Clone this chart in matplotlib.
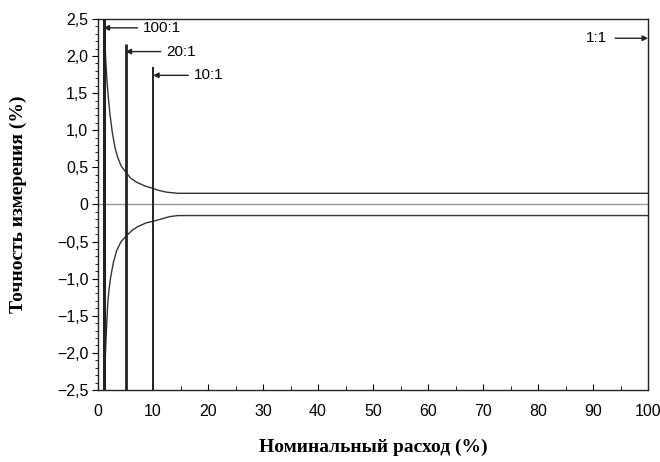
import matplotlib.pyplot as plt
from matplotlib.ticker import MultipleLocator, FuncFormatter

# ----------------------------
# DATA
# ----------------------------
flow_up = [1.0, 1.15, 1.3, 1.45, 1.65, 1.9, 2.2, 2.6, 3.1, 3.6, 4.2, 5.2, 6.0, 7.0, 8.5, 9.8, 11.0, 12.5, 14.5, 100.0]
upper = [2.5, 2.3, 2.1, 1.88, 1.65, 1.42, 1.2, 0.97, 0.76, 0.63, 0.52, 0.42, 0.35, 0.3, 0.25, 0.22, 0.19, 0.165, 0.15, 0.15]

flow_lo = [1.25, 1.35, 1.5, 1.65, 1.8, 2.0, 2.3, 2.8, 3.4, 4.2, 5.2, 6.2, 7.2, 8.7, 10.4, 11.8, 13.0, 14.5, 100.0]
lower = [-2.2, -2.0, -1.75, -1.5, -1.3, -1.15, -0.98, -0.78, -0.62, -0.5, -0.42, -0.35, -0.3, -0.25, -0.22, -0.19, -0.165, -0.15, -0.15]

# turndown lines
ratios = ["100:1", "20:1", "10:1"]
ratio_x = [1, 5, 10]
ratio_top = [2.5, 2.16, 1.85]
arrow_y = [2.38, 2.06, 1.74]
arrow_tail = [7.2, 11.4, 16.4]

x_ticks = list(range(0, 101, 10))
y_ticks = [-2.5, -2.0, -1.5, -1.0, -0.5, 0, 0.5, 1.0, 1.5, 2.0, 2.5]

# ----------------------------
# PLOT
# ----------------------------
plt.rcParams['font.family'] = ['Liberation Sans', 'DejaVu Sans']
fig = plt.figure(figsize=(6.6, 4.62), dpi=100)
ax = fig.add_axes([0.1485, 0.156, 0.8335, 0.803])

ax.axhline(0, color="#999999", lw=1)
ax.plot(flow_up, upper, color="#333333", lw=1)
ax.plot(flow_lo, lower, color="#333333", lw=1)

widths = [2.2, 2.0, 1.4]
for r, x, top, ay, tail, w in zip(ratios, ratio_x, ratio_top, arrow_y, arrow_tail, widths):
    ax.plot([x, x], [-2.5, top], color="#222222", lw=w, solid_capstyle="butt")
    ax.annotate("", xy=(x, ay), xytext=(tail, ay),
                arrowprops=dict(arrowstyle="-|>", color="#222222", lw=1,
                                mutation_scale=8, shrinkA=0, shrinkB=0))
    ax.text(tail + 1.0, ay, r, fontsize=11, va="center", ha="left")

# 1:1 at full scale
ax.annotate("", xy=(100, 2.24), xytext=(94, 2.24),
            arrowprops=dict(arrowstyle="-|>", color="#222222", lw=1,
                            mutation_scale=8, shrinkA=0, shrinkB=0))
ax.text(92.6, 2.24, "1:1", fontsize=11, va="center", ha="right")

ax.set_xlim(0, 100)
ax.set_ylim(-2.5, 2.5)
ax.set_xticks(x_ticks)
ax.set_yticks(y_ticks)
ax.xaxis.set_minor_locator(MultipleLocator(5))
ax.yaxis.set_minor_locator(MultipleLocator(0.1))

def comma(v, pos):
    if abs(v) < 1e-9:
        return "0"
    s = f"{abs(v):.1f}".replace(".", ",")
    return ("\u2212" + s) if v < 0 else s

ax.yaxis.set_major_formatter(FuncFormatter(comma))
ax.tick_params(axis="x", direction="in", length=4, labelsize=11.5, pad=10)
ax.tick_params(axis="x", which="minor", direction="in", length=3)
ax.tick_params(axis="y", direction="out", length=4, labelsize=11.5, pad=3)
ax.tick_params(axis="y", which="minor", direction="out", length=2)

for s in ax.spines.values():
    s.set_linewidth(1)
    s.set_color("#222222")

ax.set_xlabel("Номинальный расход (%)", family=["Liberation Serif", "DejaVu Serif"],
              fontweight="bold", fontsize=14, va="center")
ax.set_ylabel("Точность измерения (%)", family=["Liberation Serif", "DejaVu Serif"],
              fontweight="bold", fontsize=14, va="center")
ax.xaxis.set_label_coords(0.5, -0.154)
ax.yaxis.set_label_coords(-0.145, 0.5)

plt.savefig("out.png", dpi=100)
